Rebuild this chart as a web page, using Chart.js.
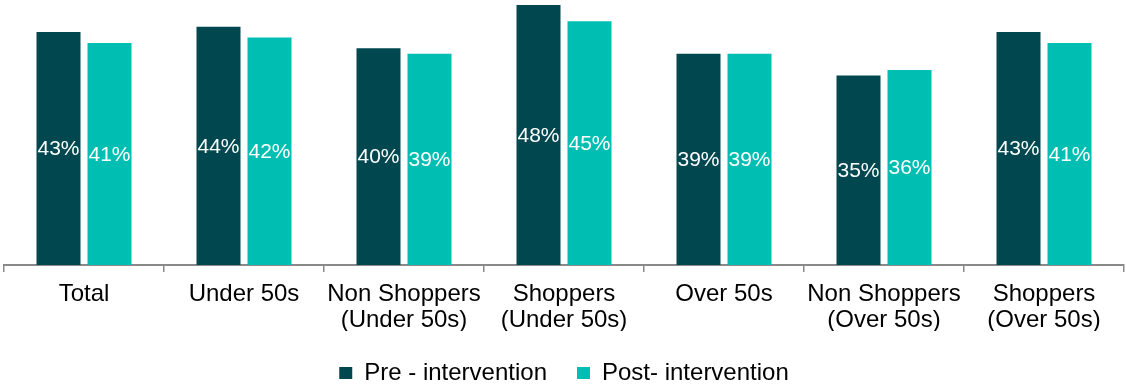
<!DOCTYPE html>
<html>
<head>
<meta charset="utf-8">
<script src="https://cdn.jsdelivr.net/npm/chart.js@4"></script>
<style>
  body { margin: 0; background: #fff; }
  #wrap { width: 1126px; height: 385px; }
</style>
</head>
<body>
<div id="wrap"><canvas id="chart"></canvas></div>
<script>
const categories = [
  'Total',
  'Under 50s',
  ['Non Shoppers', '(Under 50s)'],
  ['Shoppers', '(Under 50s)'],
  'Over 50s',
  ['Non Shoppers', '(Over 50s)'],
  ['Shoppers', '(Over 50s)']
];
const preIntervention = [43, 44, 40, 48, 39, 35, 43];
const postIntervention = [41, 42, 39, 45, 39, 36, 41];

const FONT = 'Arial, "Liberation Sans", sans-serif';

// white percentage labels in the middle of each bar
const barValues = {
  id: 'barValues',
  afterDatasetsDraw(chart) {
    const ctx = chart.ctx;
    ctx.save();
    ctx.fillStyle = '#ffffff';
    ctx.font = '21px ' + FONT;
    ctx.textAlign = 'center';
    ctx.textBaseline = 'middle';
    chart.data.datasets.forEach((ds, i) => {
      chart.getDatasetMeta(i).data.forEach((bar, j) => {
        const mid = (bar.y + bar.base) / 2 + 1;
        ctx.fillText(ds.data[j] + '%', bar.x, mid);
      });
    });
    ctx.restore();
  }
};

new Chart(document.getElementById('chart').getContext('2d'), {
  type: 'bar',
  data: {
    labels: categories,
    datasets: [{
      label: 'Pre - intervention',
      data: preIntervention,
      backgroundColor: '#004750',
      categoryPercentage: 0.6375,
      barPercentage: 0.863
    }, {
      label: 'Post- intervention',
      data: postIntervention,
      backgroundColor: '#00BFB2',
      categoryPercentage: 0.6375,
      barPercentage: 0.863
    }]
  },
  options: {
    responsive: true,
    maintainAspectRatio: false,
    animation: false,
    layout: { padding: { top: 5, left: 4, right: 2, bottom: -10 } },
    plugins: {
      legend: {
        position: 'bottom',
        labels: {
          boxWidth: 13,
          boxHeight: 12,
          padding: 30,
          color: '#000',
          font: { family: FONT, size: 24 }
        }
      },
      tooltip: { enabled: false }
    },
    scales: {
      x: {
        afterFit: (scale) => { scale.height = 66; },
        grid: {
          display: true,
          drawOnChartArea: false,
          offset: true,
          tickLength: 7,
          color: '#898989',
          lineWidth: 1.5
        },
        border: { display: true, color: '#898989', width: 2 },
        ticks: {
          color: '#000',
          padding: 9,
          maxRotation: 0,
          autoSkip: false,
          font: { family: FONT, size: 24, lineHeight: 1.08 }
        }
      },
      y: {
        display: false,
        min: 0,
        max: 48
      }
    }
  },
  plugins: [barValues]
});
</script>
</body>
</html>
